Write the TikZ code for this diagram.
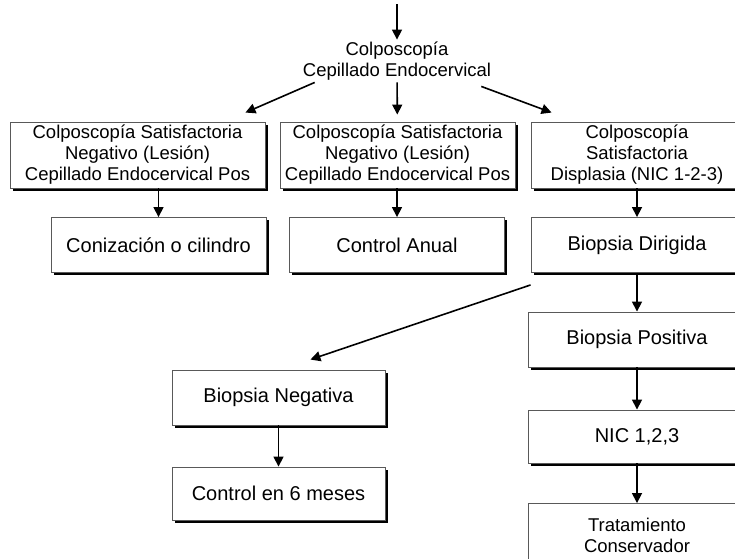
\documentclass[tikz,border=0pt]{standalone}
\usepackage{fontspec}
\setmainfont{Liberation Sans}
\usepackage{tikz}
\usetikzlibrary{arrows.meta,shadows}
\usetikzlibrary{positioning}
\tikzset{
    caja/.style={
           rectangle,
           draw=black!65, line width=0.9pt,
           fill=white,
           drop shadow={shadow xshift=2.8pt, shadow yshift=-2.8pt, fill=black, opacity=1},
           minimum height=55pt,
           inner sep=2pt,
           align=center,
           font=\fontsize{20}{22}\selectfont,
           },
    cajaalta/.style={
           caja,
           minimum height=66pt,
           font=\fontsize{18.5}{21}\selectfont,
           },
    flecha/.style={
           draw=black, line width=1.6pt,
           },
}

\begin{document}
\begin{tikzpicture}[->,>={Triangle[width=10pt,length=10pt]}, x=1pt, y=-1pt]
      \useasboundingbox (0,0) rectangle (735,558);

      % entrada desde arriba (texto cortado)
      \coordinate (ENTRADA) at (397,4);

      % COLPOSCOPIA + CEPILLADO
      \node[font=\fontsize{18.5}{21}\selectfont, align=center, inner sep=2pt]
          (COLPO) at (397,61) {Colposcopía\\Cepillado Endocervical};

      % FILA 1
      \node[cajaalta, minimum width=255pt] (SAT_NEG1) at (137.5,155)
      {Colposcopía Satisfactoria\\Negativo (Lesión)\\Cepillado Endocervical Pos};

      \node[cajaalta, minimum width=235pt] (SAT_NEG2) at (397.5,155)
      {Colposcopía Satisfactoria\\Negativo (Lesión)\\Cepillado Endocervical Pos};

      \node[cajaalta, minimum width=212pt] (SAT_DISP) at (637,155)
      {Colposcopía\\Satisfactoria\\Displasia (NIC 1-2-3)};

      % FILA 2
      \node[caja, minimum width=215pt] (CONIZ) at (158.5,245) {Conización o cilindro};
      \node[caja, minimum width=215pt] (CONTROL_AN) at (397,245) {Control Anual};
      \node[caja, minimum width=212pt] (BIOP_DIR) at (637,245) {Biopsia Dirigida};

      % COLUMNA DERECHA
      \node[caja,
          minimum width=218pt,
          below of=BIOP_DIR,
          node distance=94.5pt,
          anchor=center] (BIOP_POS) {Biopsia Positiva};

      \node[caja,
          minimum width=218pt,
          minimum height=53pt,
          below of=BIOP_POS,
          node distance=97pt,
          anchor=center] (NIC) {NIC 1,2,3};

      \node[cajaalta,
          minimum width=218pt,
          minimum height=64pt,
          below of=NIC,
          node distance=99pt,
          anchor=center] (TRAT) {Tratamiento\\Conservador};

      % RAMA NEGATIVA
      \node[caja, minimum width=213pt] (BIOP_NEG) at (278.5,397.5) {Biopsia Negativa};
      \node[caja,
          minimum width=213pt,
          minimum height=53pt,
          below of=BIOP_NEG,
          node distance=96pt,
          anchor=center] (CONTROL_6) {Control en 6 meses};

      % flechas
      \path[every edge/.style={flecha}]
      (ENTRADA)   edge (COLPO)
      ([xshift=14pt]COLPO.south west) edge ([xshift=-20pt,yshift=9pt]SAT_NEG1.north east)
      (COLPO)     edge [shorten >=7pt] (SAT_NEG2)
      ([xshift=-12pt,yshift=-4pt]COLPO.south east) edge ([xshift=21pt,yshift=9pt]SAT_DISP.north west)
      (SAT_NEG1.south -| CONIZ) edge (CONIZ)
      (SAT_NEG2.south -| CONTROL_AN) edge (CONTROL_AN)
      (SAT_DISP)  edge (BIOP_DIR)
      (BIOP_DIR)  edge (BIOP_POS)
      (BIOP_POS)  edge (NIC)
      (NIC)       edge (TRAT)
      ([yshift=-12pt]BIOP_DIR.south west) edge ([xshift=-75pt,yshift=10pt]BIOP_NEG.north east)
      (BIOP_NEG)  edge (CONTROL_6)
      ;
\end{tikzpicture}
\end{document}
